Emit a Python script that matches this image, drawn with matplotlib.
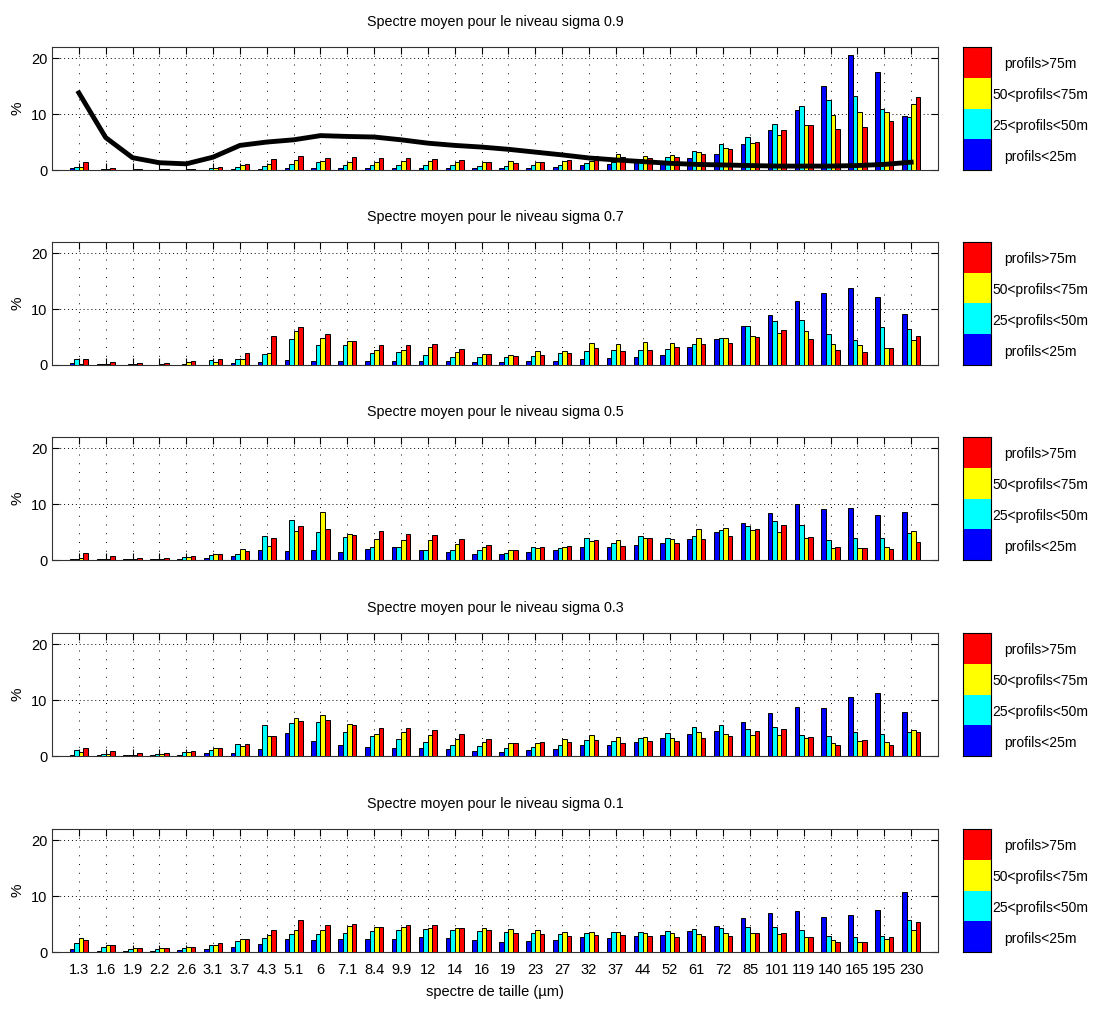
import numpy as np
import matplotlib
matplotlib.use('Agg')
import matplotlib.pyplot as plt

plt.rcParams['font.family'] = ['Liberation Sans', 'DejaVu Sans']

# ---- data ----
sizes = ['1.3', '1.6', '1.9', '2.2', '2.6', '3.1', '3.7', '4.3', '5.1', '6', '7.1', '8.4',
         '9.9', '12', '14', '16', '19', '23', '27', '32', '37', '44', '52', '61', '72', '85',
         '101', '119', '140', '165', '195', '230']
classes = ['profils<25m', '25<profils<50m', '50<profils<75m', 'profils>75m']
colors = ['#0000ff', '#00ffff', '#ffff00', '#ff0000']
levels = ['0.9', '0.7', '0.5', '0.3', '0.1']

# sigma 0.9
s09_lt25 = [0.35, 0.05, 0.05, 0.05, 0.05, 0.05, 0.1, 0.2, 0.3, 0.3, 0.3, 0.35, 0.35, 0.4, 0.35, 0.35,
            0.35, 0.4, 0.55, 0.9, 1.0, 2.0, 1.2, 2.15, 2.9, 4.6, 7.2, 10.7, 15.0, 20.65, 17.5, 9.6]
s09_25_50 = [0.6, 0.1, 0.05, 0.05, 0.05, 0.3, 0.5, 0.65, 1.1, 1.4, 0.85, 0.85, 0.85, 0.85, 0.85, 0.8,
             0.65, 0.85, 0.95, 1.25, 1.4, 2.0, 2.3, 3.35, 4.6, 5.9, 8.2, 11.5, 12.5, 13.3, 10.9, 9.45]
s09_50_75 = [0.6, 0.2, 0.1, 0.1, 0.15, 0.35, 0.85, 1.1, 1.8, 1.55, 1.45, 1.5, 1.6, 1.55, 1.45, 1.45,
             1.55, 1.4, 1.55, 1.6, 2.85, 2.45, 2.6, 3.2, 3.9, 4.85, 6.3, 8.0, 9.9, 10.4, 10.3, 11.75]
s09_gt75 = [1.4, 0.4, 0.1, 0.1, 0.25, 0.55, 1.0, 2.0, 2.45, 2.2, 2.25, 2.15, 2.1, 2.0, 1.75, 1.45,
            1.2, 1.45, 1.75, 2.45, 2.3, 2.15, 2.25, 2.85, 3.7, 4.95, 7.15, 8.05, 7.3, 7.7, 8.85, 13.0]
s09_curve = [13.8, 5.8, 2.2, 1.3, 1.1, 2.3, 4.4, 5.0, 5.4, 6.15, 6.0, 5.9, 5.4, 4.8, 4.4, 4.1,
             3.7, 3.2, 2.7, 2.15, 1.8, 1.5, 1.2, 1.0, 0.9, 0.8, 0.7, 0.7, 0.7, 0.8, 1.0, 1.4]

# sigma 0.7
s07_lt25 = [0.4, 0.1, 0.05, 0.05, 0.05, 0.05, 0.3, 0.55, 0.85, 0.7, 0.8, 0.7, 0.8, 0.8, 0.65, 0.6,
            0.55, 0.65, 0.8, 1.1, 1.2, 1.45, 1.85, 3.2, 4.7, 6.95, 9.0, 11.4, 12.9, 13.7, 12.2, 9.2]
s07_25_50 = [1.0, 0.1, 0.1, 0.05, 0.2, 0.9, 1.0, 1.9, 4.7, 3.5, 3.65, 2.15, 2.3, 1.75, 1.5, 1.35,
             1.5, 1.6, 2.1, 2.45, 2.6, 2.7, 2.85, 3.8, 4.9, 7.0, 7.9, 8.05, 5.5, 4.55, 6.75, 6.35]
s07_50_75 = [0.2, 0.1, 0.1, 0.25, 0.5, 0.6, 1.0, 2.2, 6.0, 4.8, 4.3, 2.75, 2.6, 3.2, 2.25, 2.0,
             1.75, 2.55, 2.45, 3.9, 3.75, 4.1, 3.9, 4.8, 4.8, 5.25, 5.8, 6.0, 3.7, 3.6, 3.0, 4.5]
s07_gt75 = [1.0, 0.5, 0.3, 0.3, 0.7, 1.15, 2.1, 5.1, 6.8, 5.5, 4.3, 3.5, 3.65, 3.75, 2.9, 2.0,
            1.6, 1.75, 2.15, 3.1, 2.45, 2.75, 3.15, 3.75, 3.9, 5.0, 6.2, 4.65, 2.6, 2.35, 3.0, 5.25]

# sigma 0.5
s05_lt25 = [0.25, 0.1, 0.1, 0.1, 0.1, 0.3, 0.65, 1.75, 1.55, 1.8, 1.4, 2.0, 2.25, 1.7, 1.4, 1.15,
            1.0, 1.45, 1.75, 2.4, 2.3, 2.7, 3.05, 3.8, 5.0, 6.55, 8.35, 10.1, 9.15, 9.35, 8.05, 8.5]
s05_25_50 = [0.25, 0.1, 0.1, 0.25, 0.5, 0.85, 1.15, 4.35, 7.1, 5.0, 4.05, 2.25, 2.25, 1.7, 1.8, 1.7,
             1.2, 2.4, 2.1, 4.0, 3.0, 4.3, 3.9, 4.35, 5.3, 6.15, 7.0, 6.2, 3.55, 3.85, 3.85, 4.8]
s05_50_75 = [0.3, 0.2, 0.1, 0.1, 0.6, 1.15, 2.0, 2.55, 5.25, 8.6, 4.65, 3.8, 3.55, 3.5, 2.95, 2.25,
             1.85, 2.1, 2.4, 3.35, 3.65, 4.0, 3.8, 5.5, 5.7, 5.35, 5.0, 3.85, 2.1, 2.1, 2.3, 5.25]
s05_gt75 = [1.2, 0.65, 0.35, 0.4, 0.8, 1.0, 1.6, 3.85, 6.1, 5.55, 4.5, 5.25, 4.7, 4.45, 3.75, 2.6,
            1.85, 2.35, 2.5, 3.5, 2.5, 3.85, 3.0, 3.8, 4.3, 5.55, 6.25, 4.15, 2.3, 2.1, 1.95, 3.25]

# sigma 0.3
s03_lt25 = [0.2, 0.1, 0.1, 0.1, 0.2, 0.5, 0.6, 1.3, 4.15, 2.75, 1.9, 1.55, 1.5, 1.5, 1.2, 0.9,
            0.8, 1.1, 1.25, 1.9, 1.9, 2.5, 3.15, 4.0, 4.5, 6.0, 7.65, 8.75, 8.55, 10.6, 11.3, 7.9]
s03_25_50 = [1.15, 0.4, 0.2, 0.3, 0.65, 1.1, 2.2, 5.5, 5.85, 6.0, 4.25, 3.65, 3.1, 2.55, 2.0, 1.7,
             1.5, 1.6, 1.9, 2.8, 2.7, 3.2, 4.1, 5.1, 5.5, 4.85, 5.25, 3.75, 3.65, 4.35, 3.9, 4.35]
s03_50_75 = [0.8, 0.4, 0.2, 0.3, 0.7, 1.5, 1.85, 3.55, 6.8, 7.3, 5.8, 3.95, 4.35, 3.8, 3.1, 2.45,
             2.25, 2.3, 3.05, 3.75, 3.35, 3.35, 3.2, 4.3, 3.9, 3.75, 3.75, 3.2, 2.3, 2.7, 2.5, 4.65]
s03_gt75 = [1.4, 0.85, 0.55, 0.6, 0.95, 1.45, 2.1, 3.5, 6.2, 6.4, 5.6, 4.95, 4.95, 4.7, 4.0, 3.0,
            2.3, 2.45, 2.45, 2.9, 2.3, 2.75, 2.75, 3.2, 3.65, 4.4, 4.8, 3.4, 1.95, 2.8, 2.0, 4.25]

# sigma 0.1
s01_lt25 = [0.5, 0.25, 0.1, 0.1, 0.3, 0.6, 0.85, 1.5, 2.3, 2.1, 2.3, 2.3, 2.4, 2.6, 2.45, 2.1,
            1.85, 2.05, 2.15, 2.65, 2.5, 2.8, 3.0, 3.75, 4.6, 6.05, 7.05, 7.35, 6.2, 6.55, 7.45, 10.8]
s01_25_50 = [1.55, 0.95, 0.55, 0.5, 0.7, 1.25, 2.0, 2.5, 3.3, 3.15, 3.4, 3.7, 3.9, 4.05, 3.9, 3.75,
             3.5, 3.35, 3.3, 3.35, 3.5, 3.6, 3.7, 4.05, 4.3, 4.45, 4.4, 3.9, 2.8, 2.6, 2.95, 5.65]
s01_50_75 = [2.45, 1.3, 0.8, 0.7, 0.9, 1.3, 2.3, 3.05, 3.9, 3.95, 4.6, 4.45, 4.45, 4.35, 4.3, 4.3,
             4.1, 3.9, 3.65, 3.5, 3.5, 3.35, 3.35, 3.3, 3.35, 3.4, 3.2, 2.7, 2.15, 1.85, 2.3, 3.9]
s01_gt75 = [2.2, 1.25, 0.65, 0.65, 0.9, 1.6, 2.3, 3.95, 5.8, 4.75, 5.0, 4.5, 4.85, 4.85, 4.3, 3.85,
            3.35, 3.25, 2.95, 3.05, 3.0, 2.95, 2.6, 2.9, 2.9, 3.4, 3.4, 2.65, 1.7, 1.7, 2.7, 5.35]

panels = [
    (s09_lt25, s09_25_50, s09_50_75, s09_gt75),
    (s07_lt25, s07_25_50, s07_50_75, s07_gt75),
    (s05_lt25, s05_25_50, s05_50_75, s05_gt75),
    (s03_lt25, s03_25_50, s03_50_75, s03_gt75),
    (s01_lt25, s01_25_50, s01_50_75, s01_gt75),
]

# ---- figure ----
W, H = 1096, 1009
fig = plt.figure(figsize=(W / 100, H / 100), dpi=100)

tops = [47, 242, 437, 633, 829]
ax_h = 123
x = np.arange(1, len(sizes) + 1)
bw = 0.17

for k, series in enumerate(panels):
    top = tops[k]
    ax = fig.add_axes([52 / W, 1 - (top + ax_h) / H, 886 / W, ax_h / H])
    for j in range(4):
        ax.bar(x + (j - 1.5) * bw, series[j], width=bw, color=colors[j],
               edgecolor='k', linewidth=0.7, zorder=3)
    if k == 0:
        ax.plot(x, s09_curve, color='k', linewidth=3.5, zorder=4)

    ax.set_xlim(0, len(sizes) + 1)
    ax.set_ylim(0, 22)
    ax.set_yticks([0, 10, 20])
    ax.set_xticks(x)
    ax.set_axisbelow(True)
    ax.grid(axis='x', color='k', linewidth=0.7, linestyle=(0, (1, 8)))
    ax.grid(axis='y', color='k', linewidth=0.7, linestyle=(0, (1, 3)))
    ax.tick_params(direction='in', top=True, right=True, length=5, width=0.8, labelsize=10.5)
    ax.tick_params(axis='x', pad=8)
    for s in ax.spines.values():
        s.set_color('#333333')
    if k < 4:
        ax.set_xticklabels([])
    else:
        ax.set_xticklabels(sizes)
        ax.set_xlabel('spectre de taille (\u00b5m)', fontsize=10.5, labelpad=6)
    ax.set_ylabel('%', fontsize=11)
    ax.yaxis.set_label_coords(-0.031, 0.5)
    ax.set_title(f'Spectre moyen pour le niveau sigma {levels[k]}', fontsize=10.3, pad=15)

    # colour key to the right of each panel
    lax = fig.add_axes([962.7 / W, 1 - (top + ax_h) / H, 28 / W, ax_h / H])
    for j in range(4):
        lax.bar(0, 1, bottom=j, width=1, color=colors[j], edgecolor='none')
    lax.set_xlim(-0.5, 0.5)
    lax.set_ylim(0, 4)
    lax.set_xticks([])
    lax.set_yticks([])
    for j in range(4):
        yc = top + ax_h - (j + 0.5) * ax_h / 4 + 2
        fig.text(1040 / W, 1 - yc / H, classes[j], ha='center', va='center', fontsize=10)

fig.savefig('out.png', dpi=100)
